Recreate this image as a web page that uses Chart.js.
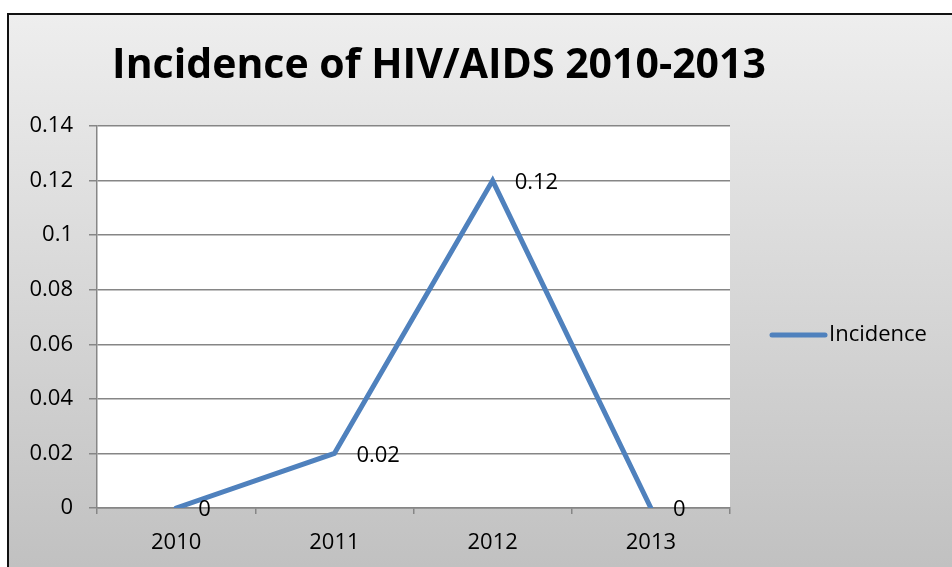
<!DOCTYPE html>
<html>
<head>
<meta charset="utf-8">
<script src="https://cdn.jsdelivr.net/npm/chart.js@4"></script>
<style>
  html, body { margin: 0; padding: 0; background: #fff; }
  #wrap { width: 952px; height: 567px; position: relative; }
</style>
</head>
<body>
<div id="wrap"><canvas id="chart" width="952" height="567"></canvas></div>
<script>
const YEARS     = ['2010', '2011', '2012', '2013'];
const INCIDENCE = [0, 0.02, 0.12, 0];
const TITLE     = 'Incidence of HIV/AIDS 2010-2013';
const SERIES    = 'Incidence';

const FONT = "'Open Sans', 'Noto Sans', sans-serif";
const LINE = '#4f81bd';
const TXT  = 22;

/* frame: grey gradient panel with a dark border */
const framePlugin = {
  id: 'frame',
  beforeDraw(chart) {
    const { ctx, width, height } = chart;
    ctx.save();
    ctx.fillStyle = '#fff';
    ctx.fillRect(0, 0, width, height);
    const g = ctx.createLinearGradient(0, 13, 0, height);
    g.addColorStop(0, '#eeeeee');
    g.addColorStop(1, '#c1c1c1');
    ctx.fillStyle = g;
    ctx.fillRect(8, 14, width - 8, height - 14);
    ctx.strokeStyle = '#111';
    ctx.lineWidth = 2;
    ctx.beginPath();
    ctx.moveTo(8, height + 2);
    ctx.lineTo(8, 14);
    ctx.lineTo(width + 2, 14);
    ctx.stroke();
    // white plot area
    const a = chart.chartArea;
    ctx.fillStyle = '#fff';
    ctx.fillRect(a.left, a.top, a.right - a.left, a.bottom - a.top);
    ctx.restore();
  },
  afterDraw(chart) {
    const { ctx } = chart;
    ctx.save();
    // title
    ctx.fillStyle = '#000';
    ctx.font = `bold 41px ${FONT}`;
    ctx.textAlign = 'center';
    ctx.textBaseline = 'middle';
    ctx.fillText(TITLE, 439, 66);
    // legend
    ctx.strokeStyle = LINE;
    ctx.lineWidth = 5;
    ctx.lineCap = 'round';
    ctx.beginPath();
    ctx.moveTo(772, 335);
    ctx.lineTo(825, 335);
    ctx.stroke();
    ctx.font = `${TXT}px ${FONT}`;
    ctx.textAlign = 'left';
    ctx.fillText(chart.data.datasets[0].label, 829, 335);
    // point value labels
    const meta = chart.getDatasetMeta(0);
    meta.data.forEach((pt, i) => {
      ctx.fillText(String(chart.data.datasets[0].data[i]), pt.x + 22, pt.y + 2);
    });
    ctx.restore();
  }
};

new Chart(document.getElementById('chart'), {
  type: 'line',
  data: {
    labels: YEARS,
    datasets: [{
      label: SERIES,
      data: INCIDENCE,
      borderColor: LINE,
      borderWidth: 5,
      pointRadius: 0,
      tension: 0,
      borderCapStyle: 'round'
    }]
  },
  options: {
    responsive: false,
    animation: false,
    layout: { padding: { top: 126, right: 222, bottom: 0, left: 0 } },
    plugins: { legend: { display: false }, title: { display: false }, tooltip: { enabled: false } },
    scales: {
      x: {
        offset: true,
        grid: { offset: true, drawOnChartArea: false, drawTicks: true, tickLength: 6, color: '#868686', lineWidth: 1.5 },
        border: { color: '#868686', width: 1.5 },
        ticks: { color: '#000', font: { family: FONT, size: TXT }, padding: 16 },
        afterFit(s) { s.height = 59; }
      },
      y: {
        min: 0, max: 0.14,
        ticks: { stepSize: 0.02, color: '#000', font: { family: FONT, size: TXT }, padding: 16,
          callback: v => String(+v.toFixed(2)) },
        grid: { color: '#868686', lineWidth: 1.5, tickLength: 8 },
        border: { color: '#868686', width: 1.5 },
        afterFit(s) { s.width = 97; }
      }
    }
  },
  plugins: [framePlugin]
});
</script>
</body>
</html>
